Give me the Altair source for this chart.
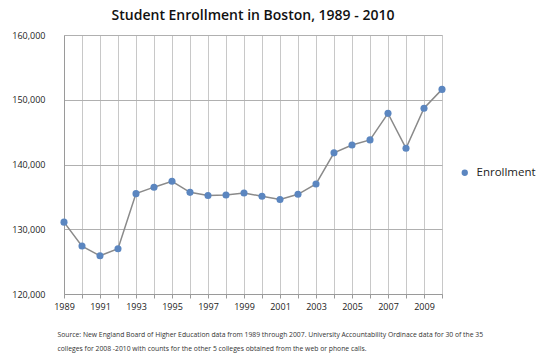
import altair as alt
import pandas as pd

years = list(range(1989, 2011))
enrollment = [131100, 127400, 125900, 127000, 135500, 136500, 137400, 135700,
              135200, 135300, 135600, 135100, 134600, 135400, 137000, 141800,
              143000, 143800, 147900, 142500, 148700, 151600]
series = ["Enrollment"] * len(years)
y_ticks = [120000, 130000, 140000, 150000, 160000]
source_lines = [
    "Source: New England Board of Higher Education data from 1989 through 2007. University Accountability Ordinace data for 30 of the 35",
    "colleges for 2008 -2010 with counts for the other 5 colleges obtained from the web or phone calls.",
]

df = pd.DataFrame({"year": years, "enrollment": enrollment, "series": series})

x = alt.X(
    "year:Q",
    scale=alt.Scale(domain=[1989, 2010], nice=False, zero=False),
    axis=alt.Axis(
        values=years, format="d",
        labelExpr="datum.value % 2 == 1 ? datum.label : ''",
        labelFlush=False, labelOverlap=False,
        grid=True, gridColor="#c8c8c8", domainColor="#9a9a9a",
        tickColor="#9a9a9a", tickSize=4, labelFontSize=9, labelColor="#222",
        labelFont="Open Sans", labelPadding=4,
        title=source_lines, titleFontSize=6.8, titleFontWeight="normal",
        titleFont="Open Sans", titleColor="#333", titleAnchor="start",
        titleAlign="left", titleX=-7, titleY=37, titleLineHeight=14,
    ),
)
y = alt.Y(
    "enrollment:Q",
    scale=alt.Scale(domain=[120000, 160000], nice=False, zero=False),
    axis=alt.Axis(
        values=y_ticks, format=",d", grid=True, gridColor="#b0b0b0",
        domainColor="#9a9a9a", ticks=False, labelFontSize=9, labelColor="#222",
        labelFont="Open Sans", labelPadding=19, title=None,
    ),
)
color = alt.Color(
    "series:N",
    scale=alt.Scale(range=["#5b86c0"]),
    legend=alt.Legend(
        title=None, orient="none", legendX=395, legendY=132,
        labelFontSize=11.5, labelFont="Open Sans", labelColor="#222",
        symbolType="circle", symbolSize=40, labelOffset=6,
    ),
)

line = alt.Chart(df).mark_line(color="#8a8a8a", strokeWidth=1.5).encode(x=x, y=y)
pts = alt.Chart(df).mark_point(filled=True, size=50, opacity=1).encode(x=x, y=y, color=color)

chart = (
    alt.layer(line, pts)
    .properties(
        width=378, height=259,
        title=alt.TitleParams(
            "Student Enrollment in Boston, 1989 - 2010", fontSize=14,
            font="Open Sans", fontWeight=600, color="#111",
            anchor="middle", frame="group", offset=8,
        ),
        autosize=alt.AutoSizeParams(type="none"),
        padding={"left": 56, "top": 27, "right": 103, "bottom": 60},
    )
    .configure_view(stroke=None)
    .configure(background="white")
)

chart.save("out.html", embed_options={"renderer": "svg", "actions": False})
